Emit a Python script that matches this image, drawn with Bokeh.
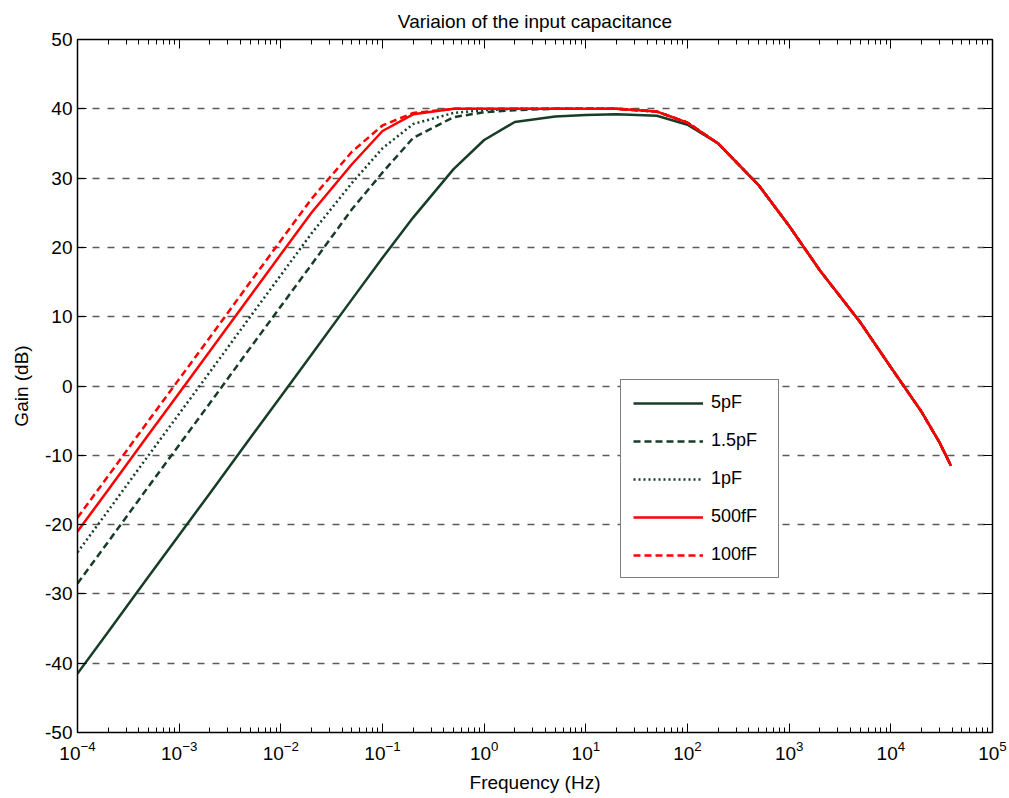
from bokeh.plotting import figure
from bokeh.models import (LogAxis, LinearAxis, Legend, LegendItem, FixedTicker,
                          LogTicker, Range1d)
from bokeh.embed import file_html
from bokeh.resources import INLINE

freq = [1e-4, 2e-4, 5e-4, 1e-3, 2e-3, 5e-3, 1e-2, 2e-2, 5e-2, 0.1, 0.2, 0.5,
        1, 2, 5, 10, 20, 50, 100, 200, 500, 1e3, 2e3, 5e3, 1e4, 2e4, 3e4, 3.9e4]

tail = [35.0, 29.0, 23.1, 16.7, 9.2, 2.7, -3.7, -8.1, -11.5]

g_5pF = [-41.5, -35.5, -27.5, -21.5, -15.5, -7.5, -1.5, 4.5, 12.5, 18.5, 24.3, 31.3,
         35.5, 38.1, 38.9, 39.1, 39.2, 39.0, 37.7] + tail
g_1p5pF = [-28.5, -22.5, -14.5, -8.5, -2.5, 5.5, 11.5, 17.5, 25.5, 30.8, 35.8, 38.8,
           39.5, 39.8, 40.0, 40.0, 40.0, 39.6, 38.0] + tail
g_1pF = [-24.0, -18.0, -10.0, -4.0, 2.0, 10.0, 16.0, 22.0, 29.3, 34.3, 37.8, 39.4,
         39.8, 40.0, 40.0, 40.0, 40.0, 39.6, 38.0] + tail
g_500fF = [-21.0, -15.0, -7.0, -1.0, 5.0, 13.0, 19.0, 25.0, 32.0, 36.8, 39.2, 40.0,
           40.0, 40.0, 40.0, 40.0, 40.0, 39.6, 38.0] + tail
g_100fF = [-19.0, -13.0, -5.0, 1.0, 7.0, 15.0, 21.0, 27.0, 33.8, 37.6, 39.4, 40.0,
           40.0, 40.0, 40.0, 40.0, 40.0, 39.6, 38.0] + tail

labels = ["5pF", "1.5pF", "1pF", "500fF", "100fF"]
y_ticks = [-50, -40, -30, -20, -10, 0, 10, 20, 30, 40, 50]
y_tick_labels = ["-50", "-40", "-30", "-20", "-10", "0", "10", "20", "30", "40", "50"]

GREEN = "#173d27"
RED = "#ff0000"
FONT = "Liberation Sans"

p = figure(frame_width=915, frame_height=693, x_axis_type="log",
           x_range=Range1d(1e-4, 1e5), y_range=Range1d(-50, 50),
           output_backend="svg", toolbar_location=None,
           min_border_left=77, min_border_right=17, min_border_top=39,
           min_border_bottom=66, title="Variaion of the input capacitance")
p.title.align = "center"
p.title.text_font = FONT
p.title.text_font_size = "19px"
p.title.text_font_style = "normal"
p.title.text_color = "black"
p.title.standoff = 15

p.outline_line_color = "black"
p.xgrid.visible = False
p.ygrid.ticker = FixedTicker(ticks=y_ticks)
p.ygrid.grid_line_color = "#5a5a5a"
p.ygrid.grid_line_dash = "7 8"
p.ygrid.grid_line_width = 1.5

for ax in [p.xaxis[0], p.yaxis[0]]:
    ax.major_tick_in = 9
    ax.major_tick_out = 0
    ax.minor_tick_in = 5
    ax.minor_tick_out = 0
    ax.axis_line_color = "black"
    ax.axis_line_width = 1.5
    ax.major_tick_line_color = "black"
    ax.minor_tick_line_color = "black"
    ax.major_label_text_font = FONT
    ax.major_label_text_font_size = "19px"
    ax.major_label_text_color = "black"
    ax.axis_label_text_font = FONT
    ax.axis_label_text_font_size = "19px"
    ax.axis_label_text_font_style = "normal"
    ax.axis_label_text_color = "black"

p.xaxis[0].ticker = LogTicker(desired_num_ticks=10, num_minor_ticks=10)
p.yaxis[0].ticker = FixedTicker(ticks=y_ticks)
p.yaxis[0].major_label_overrides = {t: s for t, s in zip(y_ticks, y_tick_labels)}
p.yaxis[0].minor_tick_line_color = None
p.xaxis[0].axis_label = "Frequency (Hz)"
p.yaxis[0].axis_label = "Gain (dB)"
p.xaxis[0].major_label_standoff = 8
p.xaxis[0].axis_label_standoff = 9
p.yaxis[0].major_label_standoff = 5
p.yaxis[0].axis_label_standoff = 10

top = LogAxis(ticker=LogTicker(desired_num_ticks=10, num_minor_ticks=10),
              major_label_text_font_size="1px", major_label_text_alpha=0,
              major_tick_in=9, major_tick_out=0, minor_tick_in=5, minor_tick_out=0,
              axis_line_color="black", axis_line_width=1.5, major_label_standoff=0)
right = LinearAxis(ticker=FixedTicker(ticks=y_ticks),
                   major_label_text_font_size="1px", major_label_text_alpha=0,
                   major_tick_in=9, major_tick_out=0, minor_tick_line_color=None,
                   axis_line_color="black", axis_line_width=1.5, major_label_standoff=0)
p.add_layout(top, "above")
p.add_layout(right, "right")

r1 = p.line(freq, g_5pF, line_color=GREEN, line_width=2.5)
r2 = p.line(freq, g_1p5pF, line_color=GREEN, line_width=2.5, line_dash="7 4")
r3 = p.line(freq, g_1pF, line_color=GREEN, line_width=2.5, line_dash="2 3")
r4 = p.line(freq, g_500fF, line_color=RED, line_width=2.5)
r5 = p.line(freq, g_100fF, line_color=RED, line_width=2.5, line_dash="7 4")

legend = Legend(items=[LegendItem(label=l, renderers=[r]) for l, r in
                       zip(labels, [r1, r2, r3, r4, r5])],
                location=(543, 154), glyph_width=70, glyph_height=20,
                label_height=20, label_width=55, label_standoff=8, spacing=17,
                padding=12, border_line_color="black", border_line_width=1,
                background_fill_alpha=1.0, label_text_font=FONT,
                label_text_font_size="18px", label_text_color="black")
p.add_layout(legend, "center")

open("out.html", "w").write(file_html(p, INLINE))
